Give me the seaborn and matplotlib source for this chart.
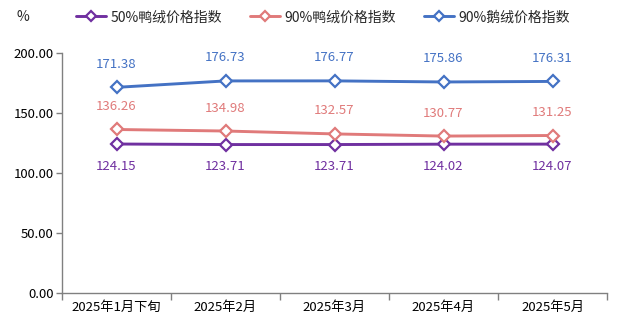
import matplotlib
matplotlib.use("Agg")
import matplotlib.pyplot as plt
import seaborn as sns
import pandas as pd

categories = ["2025年1月下旬", "2025年2月", "2025年3月", "2025年4月", "2025年5月"]
duck50 = [124.15, 123.71, 123.71, 124.02, 124.07]
duck90 = [136.26, 134.98, 132.57, 130.77, 131.25]
goose90 = [171.38, 176.73, 176.77, 175.86, 176.31]
series_names = ["50%鸭绒价格指数", "90%鸭绒价格指数", "90%鹅绒价格指数"]
colors = ["#7030A0", "#E07A7A", "#4472C4"]
yticks = [0, 50, 100, 150, 200]

sns.set_theme(style="white")
plt.rcParams["font.family"] = ["Noto Sans CJK SC", "DejaVu Sans"]

df = pd.DataFrame({
    "x": list(range(len(categories))) * 3,
    "value": duck50 + duck90 + goose90,
    "series": sum([[n] * len(categories) for n in series_names], []),
})

fig = plt.figure(figsize=(6.18, 3.24), dpi=100)
ax = fig.add_axes([62 / 618, 1 - 293 / 324, 545 / 618, 240 / 324])

sns.lineplot(data=df, x="x", y="value", hue="series", hue_order=series_names,
             palette=colors, marker="D", markersize=6, markerfacecolor="white",
             markeredgewidth=1.6, linewidth=2.1, ax=ax, legend=True)
for line, c in zip(ax.get_lines(), colors):
    line.set_markeredgecolor(c)

# value labels: duck 50% below the line, the others above
offsets = {series_names[0]: -22, series_names[1]: 23, series_names[2]: 23}
for name, vals, c in zip(series_names, [duck50, duck90, goose90], colors):
    for i, v in enumerate(vals):
        ax.annotate(f"{v:.2f}", (i, v), xytext=(0, offsets[name]),
                    textcoords="offset pixels",
                    ha="center", va="center", color=c, fontsize=9.5)

ax.set_xlim(-0.5, len(categories) - 0.5)
ax.set_ylim(0, 200)
ax.set_yticks(yticks)
ax.set_yticklabels([f"{t:.2f}" for t in yticks])
ax.set_xticks(range(len(categories)))
ax.set_xticklabels(categories)
ax.set_xticks([i - 0.5 for i in range(len(categories) + 1)], minor=True)
ax.tick_params(axis="x", which="major", length=0, pad=6, labelsize=9.5, colors="black")
ax.tick_params(axis="x", which="minor", length=5, width=1, color="#808080", direction="out", bottom=True)
ax.tick_params(axis="y", length=4, width=1, color="#808080", direction="out", left=True,
               labelsize=9.5, labelcolor="black", pad=2)
ax.set_xlabel("")
ax.set_ylabel("")
for side in ["top", "right"]:
    ax.spines[side].set_visible(False)
for side in ["left", "bottom"]:
    ax.spines[side].set_color("#808080")
    ax.spines[side].set_linewidth(1)

handles, labels = ax.get_legend_handles_labels()
ax.get_legend().remove()
for h, c in zip(handles, colors):
    h.set_markeredgecolor(c)
    h.set_markerfacecolor("white")
fig.legend(handles, labels, loc="center", bbox_to_anchor=(323 / 618, 1 - 17 / 324),
           ncol=3, frameon=False, fontsize=10, handlelength=2.2, columnspacing=2.0,
           handletextpad=0.3, markerscale=0.85)
fig.text(23 / 618, 1 - 17 / 324, "%", ha="center", va="center", fontsize=10)

fig.savefig("out.png", dpi=100)
